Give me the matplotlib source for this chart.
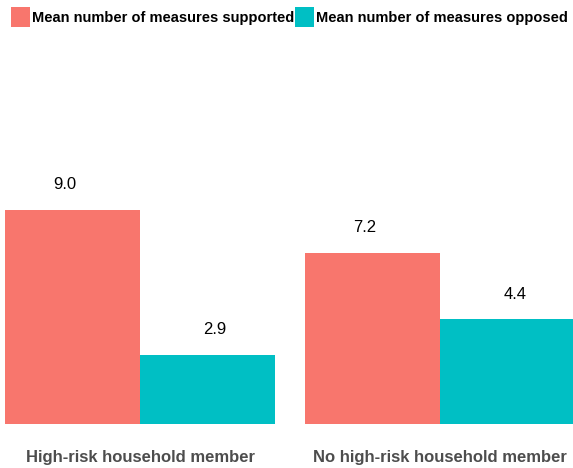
import numpy as np
import matplotlib
matplotlib.use("Agg")
import matplotlib.pyplot as plt
from matplotlib.patches import Patch

groups = ["High-risk household member", "No high-risk household member"]
series = ["Mean number of measures supported", "Mean number of measures opposed"]
supported = [9.0, 7.2]
opposed = [2.9, 4.4]
colors = ["#F8766D", "#00BFC4"]

plt.rcParams["font.family"] = ["Liberation Sans", "DejaVu Sans"]

fig = plt.figure(figsize=(5.73, 4.68), dpi=100)
ax = fig.add_axes([0, 1 - 424 / 468, 1, (424 - 40) / 468])

x = np.arange(len(groups))
width = 0.45
for k, (vals, col) in enumerate(zip([supported, opposed], colors)):
    offset = (k - 0.5) * width
    ax.bar(x + offset, vals, width=width, color=col)
    # labels dodge a bit wider than the bars
    label_off = (k - 0.5) * 0.5
    for xi, v in zip(x, vals):
        ax.annotate(f"{v:.1f}", (xi + label_off, v), xytext=(0, 18),
                    textcoords="offset points", ha="center", va="center",
                    fontsize=12, color="black")

ax.set_xlim(-0.467, 1.443)
ax.set_ylim(0, (424 - 40) / 23.8)
ax.set_xticks(x)
ax.set_xticklabels(groups, fontsize=12, fontweight="bold", color="#4D4D4D")
ax.tick_params(axis="x", length=0, pad=19)
ax.set_yticks([])
for s in ax.spines.values():
    s.set_visible(False)

handles = [Patch(facecolor=c, label=s) for c, s in zip(colors, series)]
fig.legend(handles=handles, loc="center", bbox_to_anchor=(0.505, 1 - 17 / 468),
           ncol=2, frameon=False, handlelength=1.3, handleheight=1.7,
           handletextpad=0.14, columnspacing=0.07, borderaxespad=0,
           prop={"weight": "bold", "size": 10.5})

fig.savefig("out.png", dpi=100)
